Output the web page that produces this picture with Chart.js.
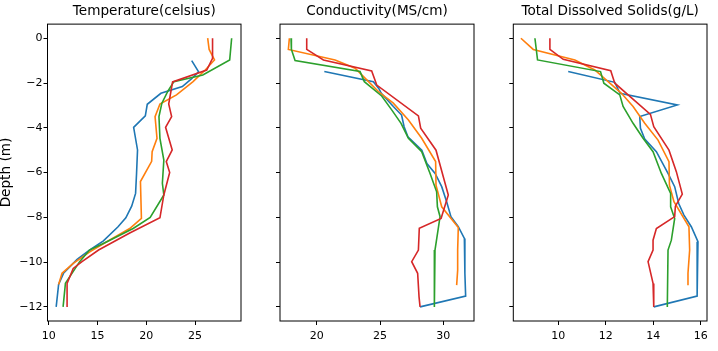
<!DOCTYPE html>
<html>
<head>
<meta charset="utf-8">
<script src="https://cdn.jsdelivr.net/npm/chart.js@4/dist/chart.umd.min.js"></script>
<style>
  html, body { margin: 0; padding: 0; background: #fff; }
  #wrap { position: relative; width: 718px; height: 351px; overflow: hidden; }
  canvas { position: absolute; top: 0; }
</style>
</head>
<body>
<div id="wrap">
  <canvas id="temp" width="252" height="351" style="left:0px"></canvas>
  <canvas id="cond" width="225" height="351" style="left:260px"></canvas>
  <canvas id="tds" width="225" height="351" style="left:493px"></canvas>
</div>
<script>
// tick labels
const depthTicks = [0, -2, -4, -6, -8, -10, -12]
const tempTicks = [10, 15, 20, 25]
const condTicks = [20, 25, 30]
const tdsTicks = [10, 12, 14, 16]

const titles = ["Temperature(celsius)", "Conductivity(MS/cm)", "Total Dissolved Solids(g/L)"]
const colors = ["#1f77b4", "#ff7f0e", "#2ca02c", "#d62728"]

// Temperature: depth (m) and value per profile
const tempDepthBlue = [-1.0, -1.5, -1.83, -2.16, -2.46, -2.95, -3.47, -3.98, -4.99, -6.04, -6.93, -7.5, -8.02, -8.42, -9.05, -9.46, -9.88, -10.5, -11.0, -12.0]
const tempBlue = [24.66, 25.37, 24.6, 23.7, 21.5, 20.1, 19.9, 18.7, 19.1, 19.0, 18.9, 18.5, 17.9, 17.1, 15.6, 14.2, 12.9, 11.5, 11.0, 10.75]
const tempDepthOrange = [0, -0.5, -0.97, -1.42, -1.94, -2.53, -2.94, -3.5, -4.47, -5.07, -5.5, -6.4, -8.05, -8.5, -9.1, -9.54, -10.06, -10.5, -11.0]
const tempOrange = [26.3, 26.45, 27.0, 26.05, 24.8, 23.1, 21.4, 20.9, 21.1, 20.6, 20.55, 19.4, 19.5, 18.3, 15.9, 14.2, 12.5, 11.35, 11.0]
const tempDepthGreen = [0, -0.97, -1.64, -1.94, -2.38, -2.9, -3.5, -4.47, -5.44, -6.48, -7.0, -8.0, -8.5, -9.1, -9.46, -9.98, -10.95, -12]
const tempGreen = [28.76, 28.56, 25.8, 22.83, 22.2, 21.6, 21.3, 21.4, 21.8, 21.65, 21.8, 20.4, 18.65, 15.9, 14.17, 13.16, 11.7, 11.46]
const tempDepthRed = [0, -0.9, -1.42, -1.95, -2.94, -3.5, -3.98, -4.99, -5.51, -6.0, -7.0, -8.02, -8.7, -9.46, -9.98, -10.28, -10.95, -12]
const tempRed = [26.8, 26.8, 26.2, 22.7, 22.3, 22.6, 21.98, 22.66, 22.05, 22.4, 21.8, 21.4, 18.3, 15.1, 13.4, 12.5, 11.87, 11.87]

// Conductivity
const condDepthBlue = [-1.49, -1.94, -2.24, -2.46, -3.05, -3.43, -3.95, -4.4, -5.0, -5.6, -6.04, -6.63, -7.3, -7.97, -8.42, -8.94, -10.5, -11.52, -12]
const condBlue = [20.6, 24.47, 24.9, 25.1, 26.05, 26.7, 26.9, 27.2, 28.3, 28.7, 29.35, 29.87, 30.26, 30.6, 31.18, 31.66, 31.7, 31.76, 28.16]
const condDepthOrange = [0, -0.5, -0.97, -1.34, -1.86, -2.38, -2.9, -3.65, -4.47, -5.51, -6.56, -7.53, -8.45, -9.46, -10.36, -11.03]
const condOrange = [17.84, 17.76, 21.45, 23.03, 23.95, 24.87, 26.05, 27.24, 28.29, 29.39, 29.42, 29.87, 31.18, 31.13, 31.13, 31.05]
const condDepthGreen = [0, -0.5, -1.0, -1.49, -1.94, -2.58, -3.2, -3.8, -4.47, -5.07, -6.04, -6.86, -7.53, -7.97, -9.46, -12]
const condGreen = [17.97, 18.0, 18.29, 23.42, 23.76, 25.13, 25.92, 26.66, 27.24, 28.29, 28.95, 29.47, 29.53, 29.74, 29.34, 29.29]
const condDepthRed = [0, -0.5, -0.97, -1.46, -2.09, -3.47, -4.02, -5.0, -7.0, -8.05, -8.49, -9.46, -9.98, -10.5, -11.55, -12]
const condRed = [19.21, 19.21, 20.53, 24.34, 24.74, 28.03, 28.21, 29.42, 30.39, 29.82, 28.1, 28.03, 27.5, 27.97, 28.08, 28.16]

// Total dissolved solids
const tdsDepthBlue = [-1.49, -1.97, -2.46, -2.98, -3.5, -4.02, -4.5, -5.07, -6.04, -6.63, -7.38, -7.9, -8.42, -9.09, -10.5, -11.52, -12]
const tdsBlue = [10.42, 12.38, 12.6, 15.01, 13.43, 13.46, 13.64, 14.13, 14.62, 14.9, 15.07, 15.29, 15.6, 15.88, 15.85, 15.84, 14.02]
const tdsDepthOrange = [0, -0.5, -0.97, -1.42, -1.94, -2.46, -3.05, -3.8, -4.55, -5.51, -6.56, -7.3, -8.42, -9.46, -10.5, -11.03]
const tdsOrange = [8.43, 8.95, 10.7, 11.54, 12.1, 12.66, 13.15, 13.64, 14.2, 14.66, 14.68, 14.87, 15.5, 15.53, 15.46, 15.46]
const tdsDepthGreen = [0, -0.97, -1.49, -2.01, -2.53, -3.05, -3.8, -4.47, -5.07, -6.04, -6.93, -7.53, -8.05, -9.02, -9.46, -12]
const tdsGreen = [9.02, 9.13, 11.78, 11.92, 12.59, 12.73, 13.15, 13.57, 13.99, 14.34, 14.73, 14.73, 14.9, 14.76, 14.62, 14.59]
const tdsDepthRed = [0, -0.5, -0.94, -1.45, -2.01, -3.4, -3.95, -5.0, -5.96, -6.96, -7.5, -7.97, -8.5, -9.02, -9.46, -9.98, -10.95, -12]
const tdsRed = [9.65, 9.65, 10.21, 12.21, 12.38, 13.88, 14.02, 14.66, 14.97, 15.22, 14.93, 14.9, 14.13, 13.99, 13.99, 13.78, 13.99, 14.02]

Chart.defaults.font.family = "'DejaVu Sans', sans-serif"
Chart.defaults.color = "#000"

const frame = {
  id: "frame",
  afterDraw(chart) {
    const { ctx, chartArea: a } = chart
    ctx.save()
    ctx.strokeStyle = "#000"
    ctx.lineWidth = 1
    ctx.strokeRect(a.left, a.top, a.right - a.left, a.bottom - a.top)
    ctx.restore()
  }
}

function pts(depths, vals) {
  return vals.map((v, i) => ({ x: v, y: depths[i] }))
}

function makePanel(id, title, series, xTicks, xMin, xMax, yWidth, first) {
  new Chart(document.getElementById(id), {
    type: "scatter",
    data: {
      datasets: series.map((s, i) => ({
        data: pts(s[0], s[1]),
        showLine: true,
        borderColor: colors[i],
        backgroundColor: colors[i],
        borderWidth: 1.6,
        pointRadius: 0,
        pointHoverRadius: 0,
        tension: 0,
        order: 3 - i
      }))
    },
    options: {
      responsive: false,
      animation: false,
      events: [],
      layout: { padding: { left: 0, right: 11, top: 0, bottom: 0 } },
      plugins: {
        legend: { display: false },
        tooltip: { enabled: false },
        title: {
          display: true,
          text: title,
          fullSize: false,
          font: { size: 13.6, weight: "normal" },
          color: "#000",
          padding: { top: 3.6, bottom: 4.2 }
        }
      },
      scales: {
        x: {
          type: "linear",
          min: xMin,
          max: xMax,
          afterBuildTicks: (s) => { s.ticks = xTicks.map(v => ({ value: v })) },
          afterFit: (s) => { s.height = 30 },
          ticks: { font: { size: 11 }, padding: 5, maxRotation: 0, color: "#000" },
          grid: { drawOnChartArea: false, drawTicks: true, tickLength: 4, color: "#000", tickWidth: 1 },
          border: { display: false }
        },
        y: {
          type: "linear",
          min: -12.63,
          max: 0.63,
          afterBuildTicks: (s) => { s.ticks = depthTicks.map(v => ({ value: v })) },
          afterFit: (s) => { s.width = yWidth },
          ticks: {
            display: first,
            font: { size: 11 },
            padding: 1,
            color: "#000",
            callback: (v) => v < 0 ? "\u2212" + Math.abs(v) : String(v)
          },
          title: {
            display: first,
            text: "Depth (m)",
            font: { size: 13.6, lineHeight: 1 },
            color: "#000",
            padding: { top: 0, bottom: 0 }
          },
          grid: { drawOnChartArea: false, drawTicks: true, tickLength: 4, color: "#000", tickWidth: 1 },
          border: { display: false }
        }
      }
    },
    plugins: [frame]
  })
}

makePanel("temp", titles[0], [
  [tempDepthBlue, tempBlue], [tempDepthOrange, tempOrange],
  [tempDepthGreen, tempGreen], [tempDepthRed, tempRed]
], tempTicks, 9.86, 29.72, 47.5, true)

makePanel("cond", titles[1], [
  [condDepthBlue, condBlue], [condDepthOrange, condOrange],
  [condDepthGreen, condGreen], [condDepthRed, condRed]
], condTicks, 17.1, 32.42, 20, false)

makePanel("tds", titles[2], [
  [tdsDepthBlue, tdsBlue], [tdsDepthOrange, tdsOrange],
  [tdsDepthGreen, tdsGreen], [tdsDepthRed, tdsRed]
], tdsTicks, 8.11, 16.26, 20.3, false)
</script>
</body>
</html>
